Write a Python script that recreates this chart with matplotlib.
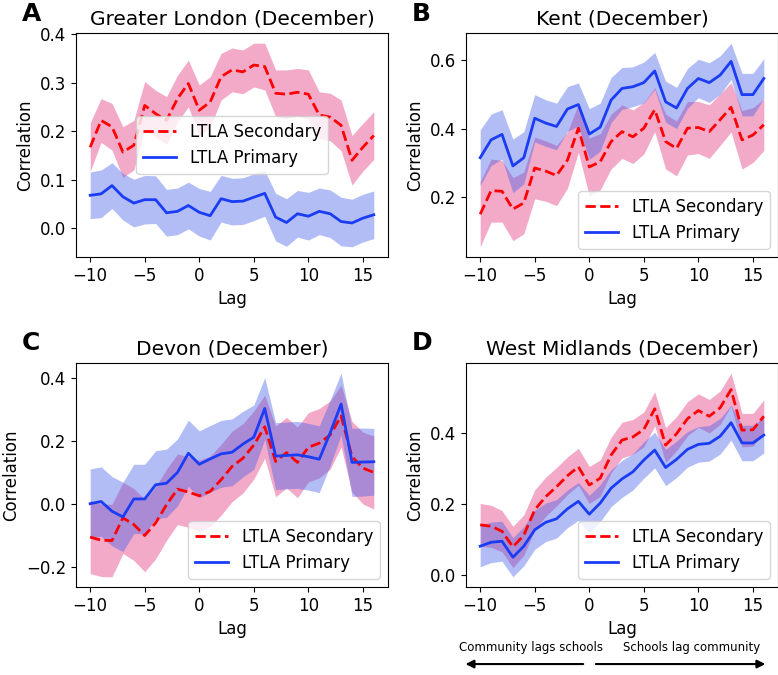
import numpy as np
from matplotlib import pyplot as plt

plt.rcParams['font.family'] = 'DejaVu Sans'
plt.rcParams['font.size'] = 12

lags = np.arange(-10, 17)

# A. Greater London
london_sec = [0.167, 0.222, 0.209, 0.157, 0.171, 0.253, 0.236, 0.222, 0.267, 0.298, 0.243, 0.260, 0.312, 0.326,
              0.322, 0.336, 0.333, 0.278, 0.276, 0.280, 0.276, 0.233, 0.229, 0.212, 0.140, 0.167, 0.191]
london_sec_err = [0.050, 0.045, 0.048, 0.052, 0.051, 0.049, 0.048, 0.049, 0.048, 0.048, 0.052, 0.052, 0.048, 0.045,
                  0.045, 0.045, 0.048, 0.048, 0.050, 0.049, 0.050, 0.048, 0.049, 0.052, 0.051, 0.049, 0.049]
london_pri = [0.068, 0.071, 0.088, 0.065, 0.052, 0.059, 0.059, 0.032, 0.035, 0.047, 0.033, 0.026, 0.061, 0.055,
              0.056, 0.064, 0.072, 0.023, 0.012, 0.030, 0.025, 0.035, 0.030, 0.014, 0.011, 0.021, 0.028]
london_pri_err = [0.048, 0.049, 0.047, 0.048, 0.049, 0.050, 0.049, 0.048, 0.048, 0.048, 0.049, 0.050, 0.048, 0.048,
                  0.048, 0.048, 0.047, 0.049, 0.049, 0.048, 0.049, 0.048, 0.049, 0.050, 0.049, 0.049, 0.049]

# B. Kent
kent_sec = [0.151, 0.220, 0.218, 0.166, 0.184, 0.286, 0.277, 0.264, 0.309, 0.402, 0.289, 0.304, 0.363, 0.392,
            0.377, 0.402, 0.456, 0.363, 0.343, 0.402, 0.404, 0.392, 0.427, 0.463, 0.368, 0.382, 0.412]
kent_sec_err = [0.095, 0.092, 0.090, 0.092, 0.090, 0.090, 0.088, 0.088, 0.082, 0.070, 0.084, 0.082, 0.080, 0.078,
                0.078, 0.075, 0.064, 0.080, 0.080, 0.078, 0.076, 0.078, 0.075, 0.072, 0.085, 0.080, 0.075]
kent_pri = [0.316, 0.368, 0.384, 0.292, 0.316, 0.431, 0.417, 0.407, 0.458, 0.471, 0.385, 0.405, 0.484, 0.518,
            0.523, 0.535, 0.569, 0.479, 0.461, 0.518, 0.547, 0.535, 0.557, 0.597, 0.500, 0.500, 0.547]
kent_pri_err = [0.081, 0.075, 0.072, 0.078, 0.076, 0.069, 0.068, 0.068, 0.065, 0.063, 0.074, 0.070, 0.066, 0.061,
                0.058, 0.060, 0.054, 0.060, 0.060, 0.058, 0.056, 0.058, 0.056, 0.053, 0.062, 0.062, 0.058]

# C. Devon
devon_sec = [-0.106, -0.116, -0.117, -0.045, -0.066, -0.101, -0.061, -0.003, 0.046, 0.037, 0.025, 0.039, 0.076,
             0.118, 0.144, 0.186, 0.244, 0.134, 0.162, 0.131, 0.179, 0.192, 0.218, 0.278, 0.149, 0.113, 0.099]
devon_sec_err = [0.116, 0.115, 0.115, 0.113, 0.114, 0.115, 0.114, 0.113, 0.112, 0.112, 0.113, 0.112, 0.112,
                 0.112, 0.110, 0.108, 0.100, 0.112, 0.112, 0.112, 0.110, 0.110, 0.108, 0.098, 0.112, 0.114, 0.116]
devon_pri = [0.000, 0.007, -0.024, -0.042, 0.015, 0.015, 0.060, 0.065, 0.099, 0.160, 0.125, 0.142, 0.158, 0.163,
             0.189, 0.211, 0.302, 0.151, 0.153, 0.155, 0.149, 0.141, 0.225, 0.316, 0.131, 0.132, 0.133]
devon_pri_err = [0.110, 0.110, 0.110, 0.110, 0.110, 0.110, 0.108, 0.108, 0.106, 0.105, 0.106, 0.106, 0.106, 0.106,
                 0.104, 0.102, 0.098, 0.106, 0.106, 0.106, 0.106, 0.106, 0.104, 0.098, 0.108, 0.108, 0.106]

# D. West Midlands
wm_sec = [0.141, 0.137, 0.123, 0.079, 0.112, 0.183, 0.220, 0.248, 0.279, 0.304, 0.253, 0.272, 0.337, 0.379,
          0.388, 0.409, 0.467, 0.365, 0.397, 0.439, 0.462, 0.446, 0.470, 0.521, 0.407, 0.408, 0.446]
wm_sec_err = [0.060, 0.059, 0.058, 0.058, 0.057, 0.056, 0.055, 0.054, 0.053, 0.052, 0.052, 0.051, 0.050, 0.050,
              0.049, 0.049, 0.048, 0.049, 0.048, 0.048, 0.047, 0.047, 0.047, 0.046, 0.047, 0.046, 0.046]
wm_pri = [0.081, 0.092, 0.095, 0.050, 0.081, 0.127, 0.148, 0.158, 0.186, 0.207, 0.171, 0.202, 0.244, 0.270,
          0.290, 0.323, 0.351, 0.302, 0.325, 0.353, 0.367, 0.370, 0.390, 0.428, 0.371, 0.371, 0.393]
wm_pri_err = [0.058, 0.057, 0.056, 0.055, 0.055, 0.055, 0.054, 0.054, 0.053, 0.053, 0.053, 0.052, 0.052, 0.052,
              0.051, 0.051, 0.050, 0.051, 0.051, 0.050, 0.050, 0.050, 0.050, 0.049, 0.050, 0.050, 0.050]

titles = ['Greater London (December)', 'Kent (December)', 'Devon (December)', 'West Midlands (December)']
letters = ['A', 'B', 'C', 'D']
yticks = [[0.0, 0.1, 0.2, 0.3, 0.4], [0.2, 0.4, 0.6], [-0.2, 0.0, 0.2, 0.4], [0.0, 0.2, 0.4]]
legend_loc = ['center', 'lower right', 'lower right', 'lower right']
panels = [(london_sec, london_sec_err, london_pri, london_pri_err),
          (kent_sec, kent_sec_err, kent_pri, kent_pri_err),
          (devon_sec, devon_sec_err, devon_pri, devon_pri_err),
          (wm_sec, wm_sec_err, wm_pri, wm_pri_err)]

W, H = 778, 675
fig = plt.figure(figsize=(W / 100, H / 100), dpi=100)

# axes boxes in pixels: left, top
boxes = [(76, 33), (466, 33), (76, 363), (466, 363)]
letter_pos = [(22, 2), (412, 2), (22, 331), (412, 331)]
ax_w, ax_h = 312, 224

axes = []
for i in range(4):
    left, top = boxes[i]
    ax = fig.add_axes([left / W, 1 - (top + ax_h) / H, ax_w / W, ax_h / H])
    sec, sec_err, pri, pri_err = [np.array(v) for v in panels[i]]
    ax.fill_between(lags, sec - sec_err, sec + sec_err, color='#e32b78', alpha=0.4, linewidth=0)
    ax.fill_between(lags, pri - pri_err, pri + pri_err, color='#415ae8', alpha=0.4, linewidth=0)
    ax.plot(lags, sec, '--', color='red', lw=2, label='LTLA Secondary')
    ax.plot(lags, pri, '-', color='#1a3cf5', lw=2, label='LTLA Primary')
    ax.set_title(titles[i], fontsize=14.5)
    ax.set_xlabel('Lag')
    ax.set_ylabel('Correlation')
    ax.set_xticks([-10, -5, 0, 5, 10, 15])
    ax.set_yticks(yticks[i])
    ax.legend(loc=legend_loc[i])
    lx, ly = letter_pos[i]
    fig.text(lx / W, 1 - ly / H, letters[i], fontsize=18, fontweight='bold', va='top', ha='left')
    axes.append(ax)

# direction arrows under panel D
ax = axes[3]
trans = ax.get_xaxis_transform()
ax.text(-5.3, -0.268, 'Community lags schools', transform=trans, ha='center', va='center', fontsize=8.5)
ax.text(9.4, -0.268, 'Schools lag community', transform=trans, ha='center', va='center', fontsize=8.5)
ax.annotate('', xy=(-11.6, -0.344), xytext=(-0.3, -0.344), xycoords=trans, textcoords=trans,
            arrowprops=dict(arrowstyle='-|>', color='black', lw=1.5, mutation_scale=12), annotation_clip=False)
ax.annotate('', xy=(16.4, -0.344), xytext=(0.35, -0.344), xycoords=trans, textcoords=trans,
            arrowprops=dict(arrowstyle='-|>', color='black', lw=1.5, mutation_scale=12), annotation_clip=False)

fig.savefig('out.png', dpi=100)
